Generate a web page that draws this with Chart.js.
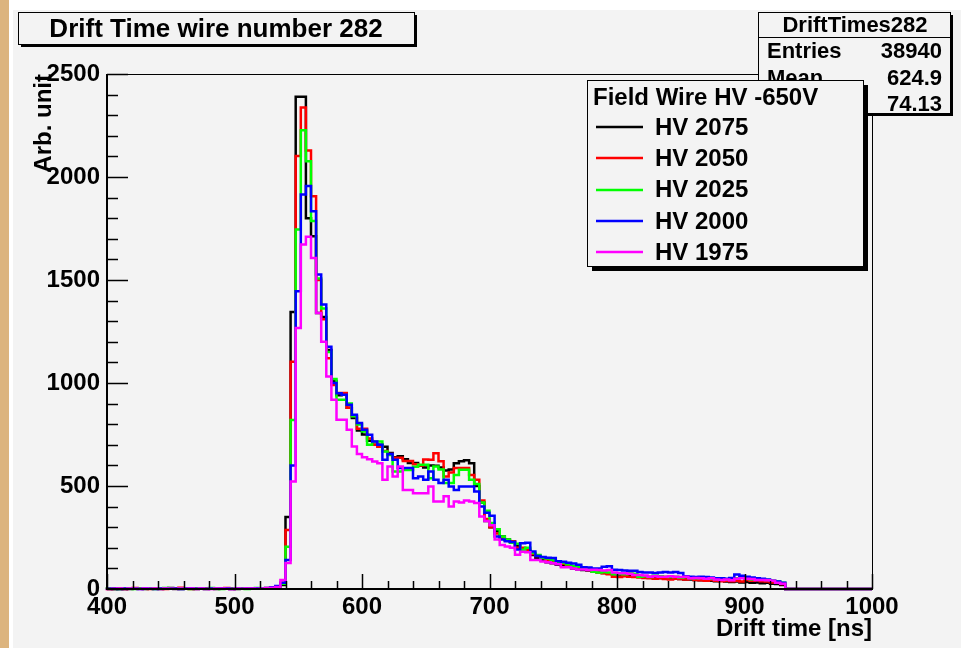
<!DOCTYPE html>
<html>
<head>
<meta charset="utf-8">
<script src="https://cdn.jsdelivr.net/npm/chart.js@4.4.1/dist/chart.umd.min.js"></script>
<style>
  body { margin: 0; background: #fff; }
  canvas { display: block; }
</style>
</head>
<body>
<canvas id="c" width="961" height="648"></canvas>
<script>
// histogram binning: 150 bins of 4 ns from 400 to 1000 ns
const binStart = 400;
const binWidth = 4;

const xTickValues = [400, 500, 600, 700, 800, 900, 1000];
const yTickValues = [0, 500, 1000, 1500, 2000, 2500];

const labels = ["HV 2075", "HV 2050", "HV 2025", "HV 2000", "HV 1975"];
const colors = ["#000000", "#ff0000", "#00ff00", "#0000ff", "#ff00ff"];

// counts per bin
const hv2075 = [
  1, 2, 0, 3, 1, 0, 4, 2, 0, 1, 3, 0, 2, 5, 1, 0, 2, 3, 0, 1, 4, 2, 0, 3, 1, 2, 0, 4, 2, 1, 3, 2, 4, 6, 9,
  20, 350, 1345, 2390, 2390, 1800, 1712, 1340, 1320, 1160,
  1010, 940, 950, 880, 830, 770, 750, 720, 700, 700,
  690, 660, 640, 645, 630, 612, 612, 600, 590, 600,
  598, 590, 575, 580, 610, 620, 625, 610, 500, 420,
  330, 300, 280, 255, 240, 230, 210, 195, 185, 165,
  150, 140, 130, 125, 118, 112, 108, 100, 96, 92,
  90, 86, 82, 78, 74, 72, 70, 68, 66, 64,
  62, 60, 58, 56, 54, 52, 52, 50, 48, 46,
  46, 44, 42, 44, 40, 38, 40, 36, 34,
  36, 32, 34, 30, 32, 28, 30, 26, 24, 20,
  0, 0, 0, 0, 0, 0, 0, 0, 0, 0, 0, 0, 0, 0, 0, 0
];
const hv2050 = [
  2, 0, 3, 1, 0, 2, 5, 1, 3, 0, 2, 4, 0, 1, 3, 6, 2, 0, 3, 1, 0, 2, 4, 1, 5, 0, 2, 3, 1, 4, 2, 3, 5, 8, 12,
  30, 286, 1103, 2102, 2337, 2129, 1907, 1500, 1310, 1120,
  990, 951, 951, 880, 840, 778, 778, 730, 700, 690,
  670, 655, 637, 637, 621, 621, 605, 600, 629, 627,
  659, 620, 546, 565, 587, 587, 587, 554, 530, 430,
  340, 300, 270, 248, 236, 230, 200, 200, 190, 170,
  160, 150, 140, 135, 128, 122, 115, 108, 104, 98,
  92, 86, 80, 76, 72, 60, 58, 62, 60, 58,
  56, 54, 52, 50, 52, 48, 46, 50, 48, 46,
  50, 44, 42, 40, 44, 40, 38, 40, 38,
  40, 36, 44, 40, 42, 38, 36, 32, 30, 24,
  0, 0, 0, 0, 0, 0, 0, 0, 0, 0, 0, 0, 0, 0, 0, 0
];
const hv2025 = [
  0, 3, 1, 0, 2, 4, 0, 3, 1, 2, 0, 3, 5, 1, 0, 2, 4, 0, 2, 3, 1, 5, 2, 0, 3, 1, 4, 2, 0, 3, 5, 2, 4, 7, 10,
  25, 205, 820, 1745, 2227, 2077, 1786, 1507, 1362, 1150,
  1020, 919, 919, 900, 838, 798, 765, 700, 716, 716,
  668, 650, 570, 570, 578, 578, 594, 603, 603, 538,
  595, 580, 514, 514, 554, 579, 579, 530, 510, 420,
  380, 320, 290, 255, 240, 225, 220, 190, 200, 175,
  165, 150, 148, 140, 130, 128, 120, 110, 108, 102,
  96, 84, 80, 82, 80, 72, 74, 72, 78, 74,
  60, 62, 58, 64, 62, 60, 58, 60, 56, 58,
  54, 52, 56, 54, 50, 48, 52, 46, 48,
  52, 58, 50, 46, 48, 46, 44, 40, 36, 30,
  0, 0, 0, 0, 0, 0, 0, 0, 0, 0, 0, 0, 0, 0, 0, 0
];
const hv2000 = [
  2, 1, 2, 0, 3, 1, 2, 0, 4, 1, 0, 2, 3, 1, 2, 0, 3, 4, 1, 2, 0, 3, 1, 2, 4, 0, 2, 1, 3, 2, 4, 3, 5, 8, 14,
  30, 141, 600, 1445, 1915, 1956, 1834, 1527, 1381, 1176,
  1000, 950, 943, 895, 846, 806, 773, 749, 716, 700,
  627, 655, 627, 587, 587, 587, 538, 546, 530, 570,
  530, 514, 530, 498, 481, 498, 498, 498, 473, 400,
  370, 355, 255, 240, 232, 228, 192, 222, 225, 182,
  160, 155, 152, 150, 135, 132, 128, 124, 118, 106,
  104, 100, 100, 108, 110, 94, 92, 90, 88, 88,
  82, 80, 80, 78, 80, 82, 80, 82, 78, 62,
  60, 58, 60, 58, 56, 52, 52, 50, 54,
  70, 64, 60, 56, 52, 50, 46, 40, 36, 30,
  0, 0, 0, 0, 0, 0, 0, 0, 0, 0, 0, 0, 0, 0, 0, 0
];
const hv1975 = [
  1, 0, 1, 2, 0, 3, 1, 0, 2, 1, 3, 0, 2, 1, 0, 2, 1, 3, 0, 2, 1, 0, 3, 2, 1, 0, 2, 1, 3, 2, 1, 3, 4, 6, 10,
  44, 126, 522, 1267, 1672, 1710, 1607, 1340, 1200, 1032,
  919, 822, 822, 773, 692, 655, 640, 630, 619, 610,
  530, 595, 546, 595, 481, 481, 465, 465, 465, 498,
  425, 425, 450, 401, 425, 420, 430, 425, 417, 352,
  330, 310, 240, 214, 206, 200, 166, 181, 178, 141,
  141, 133, 130, 125, 120, 105, 105, 100, 95, 95,
  92, 94, 92, 90, 92, 80, 76, 76, 74, 68,
  68, 66, 60, 62, 60, 60, 62, 60, 58, 60,
  52, 54, 52, 50, 52, 46, 44, 46, 42,
  50, 52, 50, 48, 44, 44, 42, 40, 30, 26,
  0, 0, 0, 0, 0, 0, 0, 0, 0, 0, 0, 0, 0, 0, 0, 0
];
const series = [hv2075, hv2050, hv2025, hv2000, hv1975];

const titleText = "Drift Time wire number 282";
const statsName = "DriftTimes282";
const statsRows = [["Entries", "38940"], ["Mean", "624.9"], ["RMS", "74.13"]];
const legendTitle = "Field Wire HV -650V";

const BG = "#f3f3f3";
const FONT = '"Liberation Sans", Arial, Helvetica, sans-serif';
const axisFont = { family: FONT, size: 24, weight: "bold" };

// step histogram: one point per bin edge, last one closes the final bin
function histPoints(values) {
  const pts = values.map((v, i) => ({ x: binStart + i * binWidth, y: v }));
  pts.push({ x: binStart + values.length * binWidth, y: values[values.length - 1] });
  return pts;
}

function shadowBox(ctx, x, y, w, h, sh) {
  ctx.fillStyle = "#000";
  ctx.fillRect(x + sh, y + sh, w, h);
  ctx.fillStyle = BG;
  ctx.fillRect(x, y, w, h);
  ctx.strokeStyle = "#000";
  ctx.lineWidth = 1;
  ctx.strokeRect(x + 0.5, y + 0.5, w, h);
  ctx.fillStyle = "#000";
}

const rootStyle = {
  id: "rootStyle",
  beforeDraw(chart) {
    const ctx = chart.ctx;
    ctx.save();
    ctx.fillStyle = "#ffffff";
    ctx.fillRect(0, 0, chart.width, chart.height);
    ctx.fillStyle = BG;
    ctx.fillRect(13, 10, chart.width - 13, chart.height - 10);
    ctx.fillStyle = "#dcb47e";
    ctx.fillRect(0, 0, 9, chart.height);
    ctx.restore();
  },
  afterDraw(chart) {
    const ctx = chart.ctx;
    const a = chart.chartArea;
    const xs = chart.scales.x;
    const ys = chart.scales.y;
    ctx.save();

    // frame
    ctx.strokeStyle = "#000";
    ctx.lineWidth = 1;
    ctx.strokeRect(a.left + 0.5, a.top + 0.5, a.right - a.left, a.bottom - a.top);
    ctx.lineWidth = 2;
    ctx.beginPath();
    ctx.moveTo(a.left, a.top);
    ctx.lineTo(a.left, a.bottom);
    ctx.lineTo(a.right, a.bottom);
    ctx.stroke();

    // inward ticks
    ctx.lineWidth = 1.5;
    ctx.beginPath();
    for (let v = xs.min; v <= xs.max; v += 20) {
      const px = Math.round(xs.getPixelForValue(v)) + 0.5;
      const len = v % 100 === 0 ? 15 : 8;
      ctx.moveTo(px, a.bottom);
      ctx.lineTo(px, a.bottom - len);
    }
    for (let v = ys.min; v <= ys.max; v += 100) {
      const py = Math.round(ys.getPixelForValue(v)) + 0.5;
      const len = v % 500 === 0 ? 21 : 11;
      ctx.moveTo(a.left, py);
      ctx.lineTo(a.left + len, py);
    }
    ctx.stroke();

    // title box
    shadowBox(ctx, 18, 12, 396, 32, 3);
    ctx.font = "bold 26px " + FONT;
    ctx.textAlign = "center";
    ctx.textBaseline = "middle";
    ctx.fillText(titleText, 216, 30);

    // stats box
    shadowBox(ctx, 758, 12, 192, 101, 3);
    ctx.beginPath();
    ctx.lineWidth = 1;
    ctx.moveTo(758, 37.5);
    ctx.lineTo(950, 37.5);
    ctx.stroke();
    ctx.font = "bold 22px " + FONT;
    ctx.textAlign = "center";
    ctx.fillText(statsName, 855, 26);
    statsRows.forEach((row, i) => {
      const y = 52 + i * 26.5;
      ctx.textAlign = "left";
      ctx.fillText(row[0], 767, y);
      ctx.textAlign = "right";
      ctx.fillText(row[1], 942, y);
    });

    // legend box
    shadowBox(ctx, 587, 80, 276, 186, 5);
    ctx.font = "bold 24px " + FONT;
    ctx.textAlign = "left";
    ctx.fillText(legendTitle, 593, 98);
    chart.data.datasets.forEach((ds, i) => {
      const y = 127 + i * 31.3;
      ctx.strokeStyle = ds.borderColor;
      ctx.lineWidth = 2.5;
      ctx.beginPath();
      ctx.moveTo(596, Math.round(y));
      ctx.lineTo(643, Math.round(y));
      ctx.stroke();
      ctx.fillStyle = "#000";
      ctx.fillText(ds.label, 655, y + 1);
    });

    ctx.restore();
  }
};

new Chart(document.getElementById("c"), {
  type: "line",
  data: {
    datasets: series.map((values, i) => ({
      label: labels[i],
      data: histPoints(values),
      borderColor: colors[i],
      backgroundColor: colors[i],
      borderWidth: 2.5,
      stepped: "after",
      pointRadius: 0,
      fill: false,
      clip: 6,
      order: series.length - i,
    })),
  },
  options: {
    responsive: false,
    animation: false,
    layout: { padding: { left: 14, top: 74, right: 89, bottom: 0 } },
    plugins: {
      legend: { display: false },
      tooltip: { enabled: false },
    },
    scales: {
      x: {
        type: "linear",
        min: 400,
        max: 1000,
        afterBuildTicks: (s) => { s.ticks = xTickValues.map((v) => ({ value: v })); },
        afterFit: (s) => { s.height = 59; },
        grid: { display: false, drawTicks: false },
        border: { display: false },
        ticks: {
          font: axisFont, color: "#000", padding: 4, maxRotation: 0, autoSkip: false,
          callback: (v) => String(v),
        },
        title: {
          display: true,
          text: "Drift time [ns]",
          align: "end",
          font: axisFont,
          color: "#000",
          padding: { top: 0, bottom: 4 },
        },
      },
      y: {
        min: 0,
        max: 2500,
        afterBuildTicks: (s) => { s.ticks = yTickValues.map((v) => ({ value: v })); },
        afterFit: (s) => { s.width = 93; },
        grid: { display: false, drawTicks: false },
        border: { display: false },
        ticks: { font: axisFont, color: "#000", padding: 7, autoSkip: false, callback: (v) => String(v) },
        title: {
          display: true,
          text: "Arb. unit",
          align: "end",
          font: axisFont,
          color: "#000",
          padding: { top: 16, bottom: 0 },
        },
      },
    },
  },
  plugins: [rootStyle],
});
</script>
</body>
</html>
